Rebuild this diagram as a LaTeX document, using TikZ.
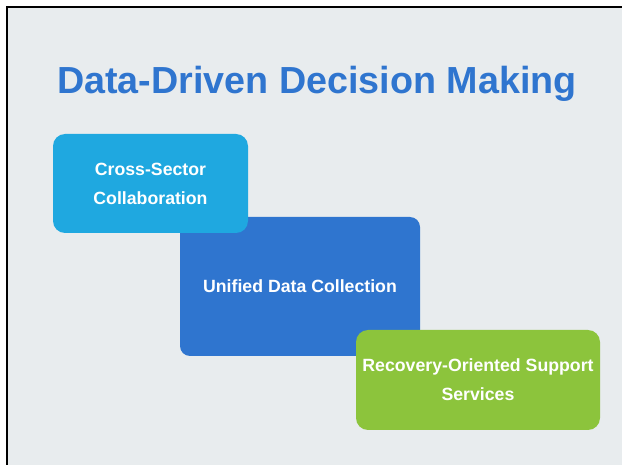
\documentclass[tikz,border=0pt]{standalone}
\usepackage{fontspec}
\setmainfont{Liberation Sans}
\usetikzlibrary{positioning}

\definecolor{bgGrey}{HTML}{E8ECEE}
\definecolor{skyCyan}{HTML}{1FA8E0}
\definecolor{deepBlue}{HTML}{2F75CF}
\definecolor{leafGreen}{HTML}{8CC43C}

\begin{document}
\begin{tikzpicture}[
    x=1pt, y=-1pt,
    card/.style={rectangle, rounded corners=12pt, text=white, align=center,
        font=\fontsize{17.7}{29}\selectfont\bfseries, inner sep=0pt},
    title/.style={text=deepBlue, font=\fontsize{37.7}{40}\selectfont\bfseries}
]
\useasboundingbox (0,0) rectangle (622,465);

% 背景和边框
\fill[bgGrey] (7,7) rectangle (622,465);
\draw[black, line width=2.5pt] (7,465) -- (7,7) -- (622,7);

% 标题
\node[title] (title) at (317,84) {Data-Driven Decision Making};

% 卡片
\node[card, fill=deepBlue, minimum width=240pt, minimum height=139pt,
    rounded corners=10pt] (unified) at (300,286.5) {Unified Data Collection};
\node[card, fill=skyCyan, minimum width=195pt, minimum height=99pt]
    (collab) at (150.5,183.5) {Cross-Sector\\Collaboration};
\node[card, fill=leafGreen, minimum width=244pt, minimum height=100pt]
    (recovery) at (478,380) {Recovery-Oriented Support\\Services};

\end{tikzpicture}
\end{document}
